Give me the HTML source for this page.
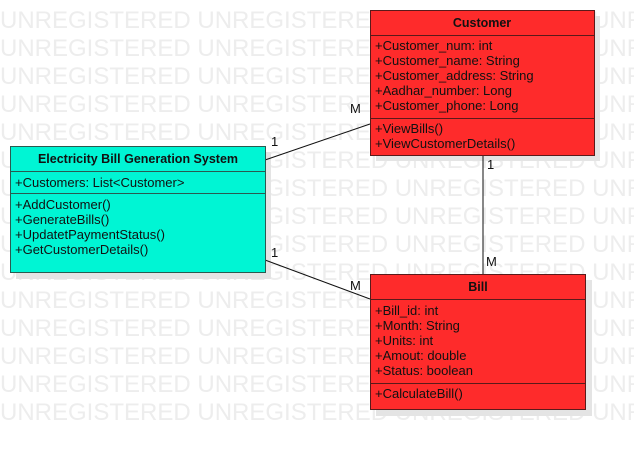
<!DOCTYPE html>
<html><head><style>
body{margin:0;background:#fff;}
svg{display:block;font-family:"Liberation Sans",Arial,sans-serif;}
.wm{font-size:24px;fill:#ededed;}
.t{font-size:13px;fill:#111;}
.b{font-size:12.5px;font-weight:bold;fill:#111;}
</style></head><body>
<svg width="634" height="450" viewBox="0 0 634 450">
<g class="wm">
<text x="0" y="28">UNREGISTERED UNREGISTERED UNREGISTERED UNREGISTERED</text>
<text x="0" y="56">UNREGISTERED UNREGISTERED UNREGISTERED UNREGISTERED</text>
<text x="0" y="84">UNREGISTERED UNREGISTERED UNREGISTERED UNREGISTERED</text>
<text x="0" y="112">UNREGISTERED UNREGISTERED UNREGISTERED UNREGISTERED</text>
<text x="0" y="140">UNREGISTERED UNREGISTERED UNREGISTERED UNREGISTERED</text>
<text x="0" y="168">UNREGISTERED UNREGISTERED UNREGISTERED UNREGISTERED</text>
<text x="0" y="196">UNREGISTERED UNREGISTERED UNREGISTERED UNREGISTERED</text>
<text x="0" y="224">UNREGISTERED UNREGISTERED UNREGISTERED UNREGISTERED</text>
<text x="0" y="252">UNREGISTERED UNREGISTERED UNREGISTERED UNREGISTERED</text>
<text x="0" y="280">UNREGISTERED UNREGISTERED UNREGISTERED UNREGISTERED</text>
<text x="0" y="308">UNREGISTERED UNREGISTERED UNREGISTERED UNREGISTERED</text>
<text x="0" y="336">UNREGISTERED UNREGISTERED UNREGISTERED UNREGISTERED</text>
<text x="0" y="364">UNREGISTERED UNREGISTERED UNREGISTERED UNREGISTERED</text>
<text x="0" y="392">UNREGISTERED UNREGISTERED UNREGISTERED UNREGISTERED</text>
<text x="0" y="420">UNREGISTERED UNREGISTERED UNREGISTERED UNREGISTERED</text>
</g>
<rect x="376" y="16" width="224" height="145" fill="#e4e4e4"/>
<rect x="16" y="152" width="255" height="127" fill="#e4e4e4"/>
<rect x="376" y="280" width="216" height="136" fill="#e4e4e4"/>
<g stroke="#111" stroke-width="1">
<line x1="370" y1="124" x2="265" y2="160"/>
<line x1="265" y1="260" x2="370" y2="299"/>
<line x1="483" y1="155" x2="483" y2="274"/>
</g>
<g class="t">
<text x="271" y="146">1</text>
<text x="350" y="113">M</text>
<text x="487" y="169">1</text>
<text x="486" y="266">M</text>
<text x="271" y="257">1</text>
<text x="350" y="290">M</text>
</g>
<g stroke="#5a1a1a" stroke-width="1">
<rect x="370.5" y="10.5" width="224" height="145" fill="#fe2b2b"/>
<line x1="370" y1="35.5" x2="595" y2="35.5"/>
<line x1="370" y1="118.5" x2="595" y2="118.5"/>
</g>
<text class="b" x="482" y="27" text-anchor="middle">Customer</text>
<g class="t">
<text x="375" y="50">+Customer_num: int</text>
<text x="375" y="65">+Customer_name: String</text>
<text x="375" y="80">+Customer_address: String</text>
<text x="375" y="95">+Aadhar_number: Long</text>
<text x="375" y="110">+Customer_phone: Long</text>
<text x="375" y="133">+ViewBills()</text>
<text x="375" y="148">+ViewCustomerDetails()</text>
</g>
<g stroke="#2a5a50" stroke-width="1">
<rect x="10.5" y="146.5" width="255" height="126" fill="#00f5d4"/>
<line x1="10" y1="171.5" x2="266" y2="171.5"/>
<line x1="10" y1="193.5" x2="266" y2="193.5"/>
</g>
<text class="b" x="138" y="163" text-anchor="middle">Electricity Bill Generation System</text>
<g class="t">
<text x="15" y="187">+Customers: List&lt;Customer&gt;</text>
<text x="15" y="209">+AddCustomer()</text>
<text x="15" y="224">+GenerateBills()</text>
<text x="15" y="239">+UpdatetPaymentStatus()</text>
<text x="15" y="254">+GetCustomerDetails()</text>
</g>
<g stroke="#5a1a1a" stroke-width="1">
<rect x="370.5" y="274.5" width="215" height="135" fill="#fe2b2b"/>
<line x1="370" y1="299.5" x2="586" y2="299.5"/>
<line x1="370" y1="383.5" x2="586" y2="383.5"/>
</g>
<text class="b" x="478" y="291" text-anchor="middle">Bill</text>
<g class="t">
<text x="375" y="315">+Bill_id: int</text>
<text x="375" y="330">+Month: String</text>
<text x="375" y="345">+Units: int</text>
<text x="375" y="360">+Amout: double</text>
<text x="375" y="375">+Status: boolean</text>
<text x="375" y="398">+CalculateBill()</text>
</g>
</svg>
</body></html>
